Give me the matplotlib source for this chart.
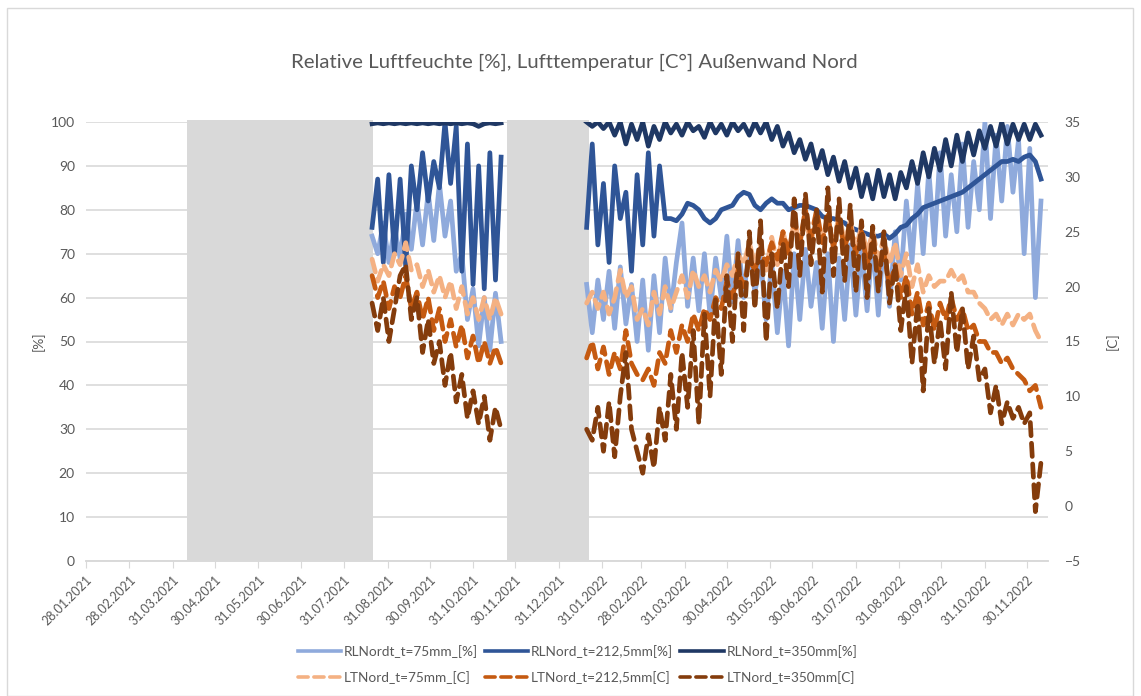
import matplotlib
matplotlib.use("Agg")
import matplotlib.pyplot as plt
import pandas as pd
from matplotlib.patches import Rectangle

plt.rcParams['font.family'] = ['Lato', 'DejaVu Sans']

# ---------------- data ----------------
seg1_start, seg1_n = "2021-08-20", 24
seg2_start, seg2_n = "2022-01-20", 82

# relative humidity [%] - segment 1
rl75_s1 = [74, 70, 77, 68, 76, 69, 79, 71, 82, 72, 84, 73, 86, 74, 82, 66, 70, 55, 62, 49, 60, 48, 61, 50]
rl212_s1 = [76, 87, 68, 88, 70, 87, 67, 90, 80, 93, 82, 91, 85, 100, 86, 99, 66, 95, 63, 90, 62, 93, 64, 92]
rl350_s1 = [99.6, 99.8, 99.6, 99.8, 99.6, 99.8, 99.6, 99.8, 99.6, 99.8, 99.6, 99.8,
            99.6, 99.8, 99.6, 99.8, 99.6, 99.8, 99.6, 99.0, 99.6, 99.8, 99.6, 99.8]

# air temperature [C] - segment 1
lt75_s1 = [22.5, 20.5, 22, 21, 23, 22, 24, 21.5, 22, 20, 21.5, 19.5, 21, 19, 20.5, 18, 20, 17.5, 19, 17, 19, 17, 19, 17.5]
lt212_s1 = [21, 19, 20.5, 18, 20, 19, 21, 18, 19.5, 17, 19, 16, 18, 15, 17, 14.5, 16.5, 13.5, 15.5, 13, 15, 13, 14.5, 13]
lt350_s1 = [18.5, 16, 19, 15, 18, 21, 22, 17, 19, 14, 17, 13, 15, 11, 14, 9.5, 12, 8, 10.5, 7.5, 10, 6, 9, 7]

# relative humidity [%] - segment 2
rl75_s2 = [63, 52, 64, 55, 66, 53, 67, 54, 63, 50, 64, 48, 65, 52, 69, 57, 68, 77, 58, 69,
           57, 70, 56, 69, 60, 74, 59, 73, 60, 72, 61, 69, 55, 68, 52, 66, 49, 70, 55, 71,
           58, 68, 53, 70, 50, 69, 55, 72, 56, 71, 57, 73, 56, 74, 58, 75, 64, 82, 68, 86,
           70, 89, 72, 93, 74, 88, 75, 95, 76, 91, 80, 100, 78, 97, 82, 99, 84, 96, 70, 94,
           60, 82]
rl212_s2 = [76, 95, 72, 86, 68, 90, 78, 84, 66, 88, 72, 93, 74, 90, 78, 78, 77.5, 79, 81.5, 81,
            80, 78, 77, 78, 80, 80.5, 81, 83, 84, 83.5, 81, 80, 81.5, 82.5, 81.5, 81.5, 80, 80.5, 81, 81,
            80.5, 80, 78.5, 78, 78, 77.5, 77, 76, 75.5, 75, 74.5, 74, 74, 74.5, 73.5, 74.5, 76, 76.5, 78, 79,
            80.5, 81, 81.5, 82, 82.5, 83, 83.5, 84, 85, 86, 87, 88, 89, 90, 91, 91, 91.5, 91, 92, 92.5,
            91, 87]
rl350_s2 = [100, 99, 100, 98.5, 100, 97, 100, 95, 99.5, 96, 100, 94.5, 99, 96,
            100, 97.5, 99.5, 97, 100, 98, 99, 96.5, 100, 97.5, 99.5, 97, 100, 98, 99.5, 97, 100, 97.5, 100,
            96, 99, 94.5, 97.5, 93, 96, 91.5, 95,
            89.5, 93.5, 88, 92, 86.5, 91, 85, 89.5, 83, 88,
            82.5, 89, 83, 88, 82.5, 88.5,
            85, 91, 86, 93, 87.5, 94, 89,
            96, 90, 97, 91, 97.5, 92.5, 98,
            94, 99, 94.5, 100, 95, 99.5, 96, 99.5, 96, 99.5, 97]

# air temperature [C] - segment 2
lt75_s2 = [18.5, 19.5, 18, 19.5, 17.5, 19, 21.5, 19, 20, 17, 18, 16.5, 19.5, 17.5, 20, 18, 19.5, 21, 19, 21.5,
           20, 21, 19.5, 21.5, 20.5, 22, 21, 23, 22, 24, 22, 24, 21.5, 24.5, 22, 25, 23, 26, 24, 26,
           24, 26.5, 24.5, 26, 24, 26.5, 24, 26, 23.5, 25.5, 23, 25, 22.5, 24.5, 22, 24, 21, 23, 20, 22,
           19.5, 21, 20, 20.5, 20.5, 21.5, 20.5, 21, 19.5, 19.5, 18.5, 18, 17, 17.5, 16.5, 17.5, 16.5, 17.5, 17, 17.5,
           16, 15]
lt212_s2 = [13.5, 15, 12.5, 14.5, 12, 14, 12.5, 16, 13, 12, 11.5, 12.5, 11, 14, 13, 16, 14, 16.5, 15, 17.5,
            16, 18, 17, 19, 18, 20.5, 19, 21.5, 20, 22.5, 21.5, 23.5, 22, 24, 22.5, 25, 23, 26, 24, 27,
            24.5, 27, 24, 26.5, 23.5, 26, 23.5, 25.5, 23, 25, 22, 24, 21.5, 23, 20, 22, 19, 21, 17.5, 19.5,
            16.5, 18.5, 16, 18.5, 17, 19, 17, 18, 16, 16.5, 15, 15, 14, 14, 13, 13.5, 12.5, 12, 11.5, 10.5,
            11, 9]
lt350_s2 = [7, 6, 9, 5, 9.5, 4.5, 10, 14, 7, 5, 3, 6.5, 3.5, 9, 6, 12, 7, 14, 9, 16,
            7.5, 17.5, 10, 19, 12, 21, 15, 23, 16, 25, 18, 26, 15, 23, 18, 24, 20, 28, 21, 28.5,
            22, 27, 19.5, 29, 21, 28, 20.5, 27.5, 19.5, 26, 19, 25.5, 19.5, 25, 18.5, 22, 16, 20, 13, 18.5,
            10.5, 18, 13, 17, 12.5, 19.5, 14, 18, 12.5, 15.5, 11.5, 12.5, 8.5, 11, 7.5, 9.5, 8, 9, 7.5, 8.5,
            -0.5, 4]

# missing-data periods (grey bands)
gap_starts = ["2021-04-10", "2021-11-24"]
gap_ends = ["2021-08-21", "2022-01-22"]

tick_labels = ["28.01.2021", "28.02.2021", "31.03.2021", "30.04.2021", "31.05.2021", "30.06.2021",
               "31.07.2021", "31.08.2021", "30.09.2021", "31.10.2021", "30.11.2021", "31.12.2021",
               "31.01.2022", "28.02.2022", "31.03.2022", "30.04.2022", "31.05.2022", "30.06.2022",
               "31.07.2022", "31.08.2022", "30.09.2022", "31.10.2022", "30.11.2022"]

labels_rl = ["RLNordt_t=75mm_[%]", "RLNord_t=212,5mm[%]", "RLNord_t=350mm[%]"]
labels_lt = ["LTNord_t=75mm_[C]", "LTNord_t=212,5mm[C]", "LTNord_t=350mm[C]"]
title = "Relative Luftfeuchte [%], Lufttemperatur [C°] Außenwand Nord"

# ---------------- styling ----------------
c_rl = ["#8faadc", "#2f5597", "#1f3864"]
c_lt = ["#f4b183", "#c55a11", "#843c0c"]
txt = "#595959"
grid_c = "#d9d9d9"

d1 = pd.date_range(seg1_start, periods=seg1_n, freq="4D")
d2 = pd.date_range(seg2_start, periods=seg2_n, freq="4D")

fig = plt.figure(figsize=(11.41, 6.96), dpi=100)
fig.patches.append(Rectangle((7 / 1141, 0.0), 1126 / 1141, 1 - 8 / 696, transform=fig.transFigure,
                             fill=False, edgecolor="#d9d9d9", linewidth=1))
ax = fig.add_axes([86 / 1141, 1 - 561 / 696, (1048 - 86) / 1141, (561 - 122) / 696])
ax2 = ax.twinx()

ax.set_axisbelow(True)
ax.yaxis.grid(True, color=grid_c, linewidth=1.2)
for s, e in zip(gap_starts, gap_ends):
    ax.fill_between([pd.Timestamp(s), pd.Timestamp(e)], 0, 100.5, color="#d9d9d9",
                    linewidth=0, zorder=1, clip_on=False)

rl_data = [(rl75_s1, rl75_s2), (rl212_s1, rl212_s2), (rl350_s1, rl350_s2)]
lt_data = [(lt75_s1, lt75_s2), (lt212_s1, lt212_s2), (lt350_s1, lt350_s2)]
LW = 3.4
handles_rl, handles_lt = [], []
for (a, b), c, lab in zip(rl_data, c_rl, labels_rl):
    h, = ax.plot(d1, a, color=c, lw=LW, zorder=3, label=lab, solid_joinstyle="round")
    ax.plot(d2, b, color=c, lw=LW, zorder=3, solid_joinstyle="round")
    handles_rl.append(h)
for (a, b), c, lab in zip(lt_data, c_lt, labels_lt):
    h, = ax2.plot(d1, a, color=c, lw=LW, ls=(0, (2.8, 1.6)), dash_capstyle="round",
                  dash_joinstyle="round", label=lab)
    ax2.plot(d2, b, color=c, lw=LW, ls=(0, (2.8, 1.6)), dash_capstyle="round", dash_joinstyle="round")
    handles_lt.append(h)

ax.set_ylim(0, 100)
ax.set_yticks(range(0, 101, 10))
ax2.set_ylim(-5, 35)
ax2.set_yticks(range(-5, 36, 5))
ax.set_xlim(pd.Timestamp("2021-01-28"), pd.Timestamp("2022-12-15"))
ax.set_xticks(pd.to_datetime(tick_labels, format="%d.%m.%Y"))
ax.set_xticklabels(tick_labels, rotation=45, ha="right", rotation_mode="anchor")

for a in (ax, ax2):
    for sp in ("top", "left", "right"):
        a.spines[sp].set_visible(False)
    a.spines["bottom"].set_color(grid_c)
    a.spines["bottom"].set_linewidth(1.2)
    a.tick_params(axis="y", length=0, colors=txt, labelsize=10)
ax.tick_params(axis="y", pad=8)
ax2.tick_params(axis="y", pad=12)
ax.tick_params(axis="x", direction="out", length=5, color=grid_c, colors=txt, labelsize=9, pad=4)
ax.tick_params(axis="x", color=grid_c)

ax.set_ylabel("[%]", color=txt, fontsize=10, labelpad=4)
ax2.set_ylabel("[C]", color=txt, fontsize=10, labelpad=18)

fig.text(0.503, 0.911, title, ha="center", va="center", fontsize=14.7, color=txt)

order = [handles_rl[0], handles_lt[0], handles_rl[1], handles_lt[1], handles_rl[2], handles_lt[2]]
leg = fig.legend(order, [h.get_label() for h in order], loc="center", bbox_to_anchor=(0.506, 0.045),
                 ncol=3, frameon=False, fontsize=9.8, handlelength=3.2, handletextpad=0.2,
                 columnspacing=0.5, labelspacing=0.95)
for h in leg.legend_handles:
    h.set_linewidth(2.6)
for t in leg.get_texts():
    t.set_color(txt)

fig.savefig("out.png", dpi=100)
